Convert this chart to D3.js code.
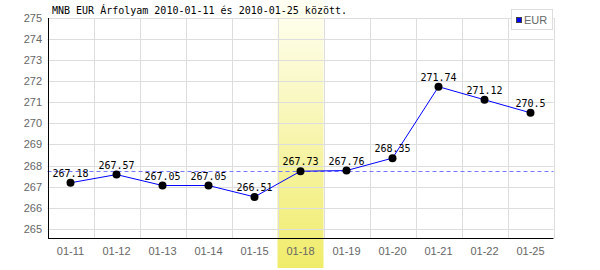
<!DOCTYPE html>
<html>
<head>
<meta charset="utf-8">
<script src="https://cdn.jsdelivr.net/npm/d3@7"></script>
<style>
    body { margin: 0; background: #fff; }
    svg { display: block; }
</style>
</head>
<body>
<svg id="chart" width="600" height="270"></svg>
<script>
// chart data
const dates = ['01-11', '01-12', '01-13', '01-14', '01-15', '01-18', '01-19', '01-20', '01-21', '01-22', '01-25'];
const rates = [267.18, 267.57, 267.05, 267.05, 266.51, 267.73, 267.76, 268.35, 271.74, 271.12, 270.5];
const yTicks = [265, 266, 267, 268, 269, 270, 271, 272, 273, 274, 275];
const highlightDate = '01-18';
const titleText = 'MNB EUR Árfolyam 2010-01-11 és 2010-01-25 között.';
const seriesName = 'EUR';

const svg = d3.select('#chart');
const margin = { left: 47.5, right: 553.5, top: 18, bottom: 238 };
const monoFont = '"DejaVu Sans Mono", monospace';
const tickFont = '"Liberation Sans", Arial, sans-serif';

const x = d3.scaleBand().domain(dates).range([margin.left, margin.right]);
const y = d3.scaleLinear().domain([264.56, 275]).range([margin.bottom, margin.top]);

// highlighted day band
const grad = svg.append('defs').append('linearGradient')
    .attr('id', 'hl').attr('x1', 0).attr('y1', 0).attr('x2', 0).attr('y2', 1);
grad.append('stop').attr('offset', '0%').attr('stop-color', '#fffff4');
grad.append('stop').attr('offset', '100%').attr('stop-color', '#f0ec6a');

svg.append('rect')
    .attr('x', x(highlightDate))
    .attr('y', 0)
    .attr('width', x.bandwidth())
    .attr('height', 268)
    .attr('fill', 'url(#hl)');

// grid
const grid = svg.append('g').attr('stroke', '#dddddd').attr('stroke-width', 1);
grid.selectAll('line.h')
    .data(yTicks)
    .join('line')
    .attr('x1', margin.left).attr('x2', margin.right)
    .attr('y1', (d) => Math.round(y(d)) + 0.5)
    .attr('y2', (d) => Math.round(y(d)) + 0.5);
grid.selectAll('line.v')
    .data(dates.slice(1).concat(['end']))
    .join('line')
    .attr('x1', (d, i) => Math.round(margin.left + (i + 1) * x.bandwidth()) + 0.5)
    .attr('x2', (d, i) => Math.round(margin.left + (i + 1) * x.bandwidth()) + 0.5)
    .attr('y1', margin.top)
    .attr('y2', margin.bottom);

// reference dashed line at highlighted value
const refVal = rates[dates.indexOf(highlightDate)];
svg.append('line')
    .attr('x1', margin.left).attr('x2', margin.right)
    .attr('y1', Math.round(y(refVal)) + 0.5).attr('y2', Math.round(y(refVal)) + 0.5)
    .attr('stroke', '#7777ff')
    .attr('stroke-dasharray', '4,3');

// axes
svg.append('line')
    .attr('x1', 48.5).attr('x2', 48.5).attr('y1', margin.top).attr('y2', margin.bottom + 1)
    .attr('stroke', '#000');
svg.append('line')
    .attr('x1', 48).attr('x2', margin.right).attr('y1', margin.bottom + 0.5).attr('y2', margin.bottom + 0.5)
    .attr('stroke', '#000');

const yAxis = svg.append('g')
    .attr('transform', 'translate(46,0)')
    .call(d3.axisLeft(y).tickValues(yTicks).tickSize(0).tickPadding(4).tickFormat(d3.format('d')));
yAxis.select('.domain').remove();
yAxis.selectAll('text').attr('font-family', tickFont).attr('font-size', 11).attr('fill', '#666');

const xAxis = svg.append('g')
    .attr('transform', `translate(0,${margin.bottom})`)
    .call(d3.axisBottom(x).tickSize(0).tickPadding(9));
xAxis.select('.domain').remove();
xAxis.selectAll('text').attr('font-family', tickFont).attr('font-size', 11).attr('fill', '#666');

// series
const cx = (d, i) => x(dates[i]) + x.bandwidth() / 2;
svg.append('path')
    .datum(rates)
    .attr('fill', 'none')
    .attr('stroke', '#0000ff')
    .attr('stroke-width', 1)
    .attr('d', d3.line().x(cx).y((d) => y(d)));

svg.selectAll('circle.pt')
    .data(rates)
    .join('circle')
    .attr('cx', cx)
    .attr('cy', (d) => y(d))
    .attr('r', 4)
    .attr('fill', '#000');

svg.selectAll('text.val')
    .data(rates)
    .join('text')
    .attr('x', cx)
    .attr('y', (d) => y(d) - 6)
    .attr('text-anchor', 'middle')
    .attr('font-family', monoFont)
    .attr('font-size', 10)
    .attr('fill', '#000')
    .text((d) => d);

// title
svg.append('text')
    .attr('x', 52)
    .attr('y', 14)
    .attr('font-family', monoFont)
    .attr('font-size', 10)
    .attr('fill', '#000')
    .text(titleText);

// legend
const legend = svg.append('g');
legend.append('rect')
    .attr('x', 511.5).attr('y', 9.5).attr('width', 41).attr('height', 20)
    .attr('fill', '#fff').attr('stroke', '#dddddd');
legend.append('rect')
    .attr('x', 516.5).attr('y', 17.5).attr('width', 5).attr('height', 5)
    .attr('fill', '#0000ff').attr('stroke', '#444');
legend.append('text')
    .attr('x', 524).attr('y', 24)
    .attr('font-family', tickFont).attr('font-size', 11).attr('fill', '#666')
    .text(seriesName);
</script>
</body>
</html>
